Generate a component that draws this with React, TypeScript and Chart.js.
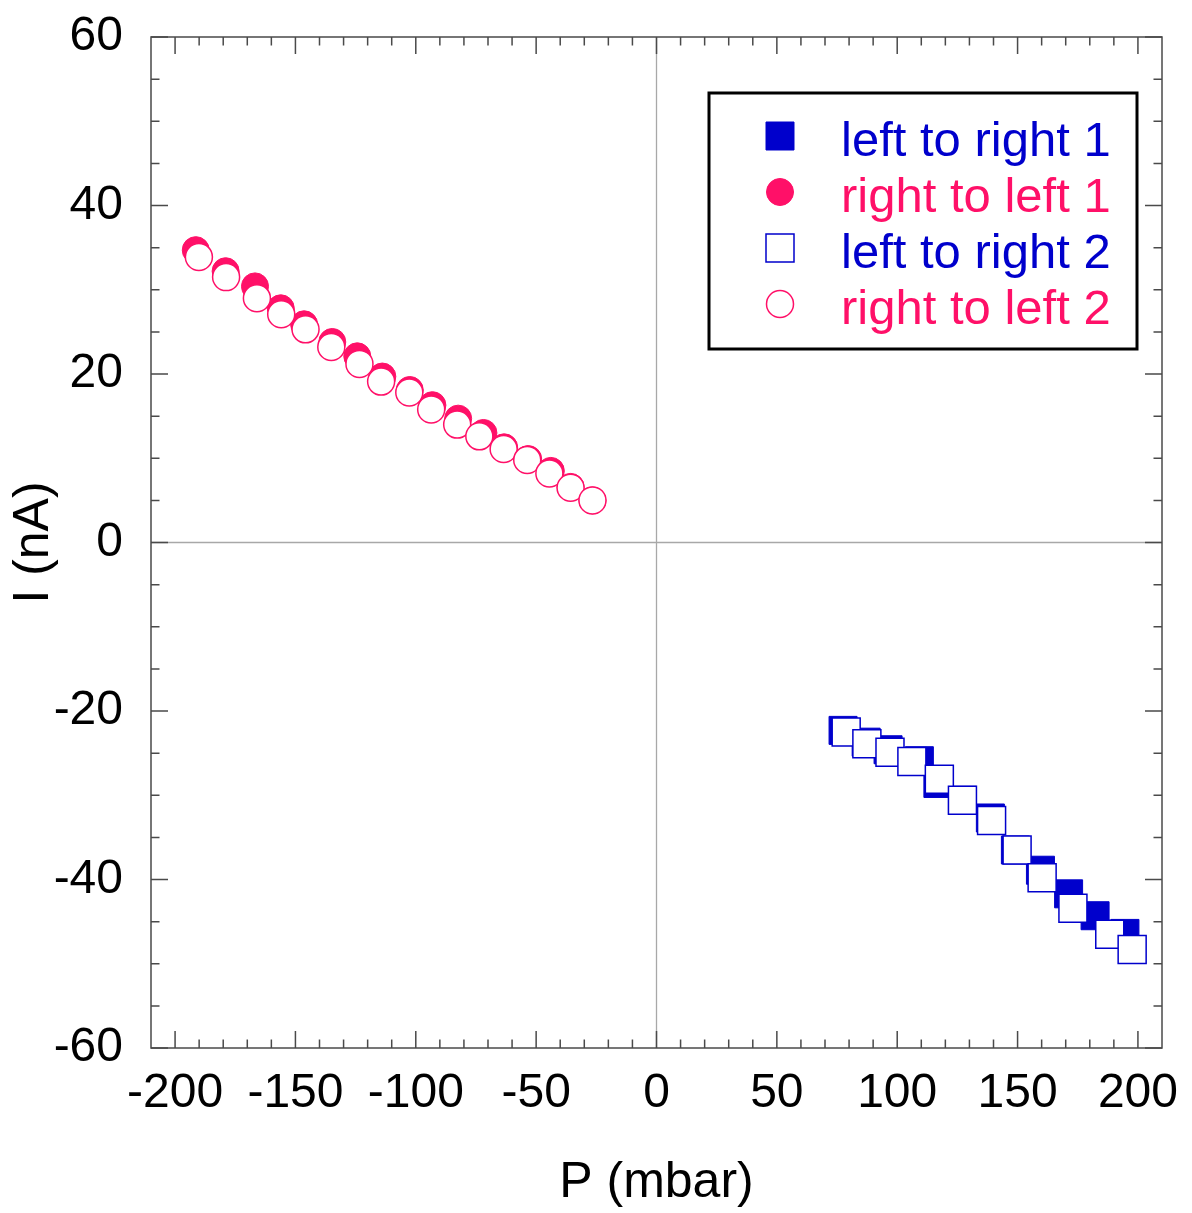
import React, { useEffect, useRef } from 'react';
import { Chart, registerables } from 'chart.js';

Chart.register(...registerables);

// ---- data ----
const ltr1X = [77.5, 87.1, 96.2, 109.2, 116.9, 127.1, 138.7, 149.1, 159.5, 171.2, 182.2, 194.6];
const ltr1Y = [-22.3, -23.7, -24.6, -25.9, -28.6, -30.6, -32.7, -36.5, -38.9, -41.7, -44.3, -46.4];

const rtl1X = [-191.4, -179.0, -166.8, -156.1, -146.4, -134.7, -124.3, -113.9, -102.5, -93.1, -82.4, -71.9, -63.3, -53.3, -43.9, -35.7, -26.6];
const rtl1Y = [34.7, 32.2, 30.4, 27.8, 25.9, 23.8, 22.1, 19.7, 18.1, 16.3, 14.7, 13.0, 11.3, 9.9, 8.5, 6.6, 5.0];

const ltr2X = [78.8, 87.4, 97.0, 106.1, 117.5, 127.1, 139.2, 149.8, 160.2, 173.0, 188.3, 197.6];
const ltr2Y = [-22.5, -23.9, -24.9, -26.0, -28.1, -30.6, -33.0, -36.5, -39.8, -43.4, -46.5, -48.3];

const rtl2X = [-190.1, -178.8, -166.0, -155.9, -145.8, -135.1, -123.4, -114.4, -102.7, -93.6, -82.8, -73.6, -63.5, -53.7, -44.5, -35.7, -26.6];
const rtl2Y = [33.9, 31.5, 29.0, 27.1, 25.3, 23.2, 21.2, 19.1, 17.8, 15.8, 14.0, 12.6, 11.1, 9.8, 8.2, 6.5, 5.0];

const seriesNames = ['left to right 1', 'right to left 1', 'left to right 2', 'right to left 2'];

const xTicks = [-200, -150, -100, -50, 0, 50, 100, 150, 200];
const yTicks = [-60, -40, -20, 0, 20, 40, 60];
const xMinorStep = 10;
const yMinorStep = 5;
const xRange = [-210, 210];
const yRange = [-60, 60];

const xTitle = 'P (mbar)';
const yTitle = 'I (nA)';

// ---- styles ----
const BLUE = '#0000CC';
const PINK = '#FF1068';
const FONT = "'Liberation Sans', Arial, Helvetica, sans-serif";
const FRAME = '#4a4a4a';

const toPts = (xs: number[], ys: number[]) => xs.map((x, i) => ({ x, y: ys[i] }));

const framePlugin = {
  id: 'frameTicks',
  beforeDatasetsDraw(chart: any) {
    const { ctx, chartArea, scales } = chart;
    const { left, right, top, bottom } = chartArea;
    const xs = scales.x;
    const ys = scales.y;
    ctx.save();
    ctx.strokeStyle = '#a8a8a8';
    ctx.lineWidth = 1.3;
    const x0 = xs.getPixelForValue(0);
    const y0 = ys.getPixelForValue(0);
    ctx.beginPath();
    ctx.moveTo(x0, top);
    ctx.lineTo(x0, bottom);
    ctx.moveTo(left, y0);
    ctx.lineTo(right, y0);
    ctx.stroke();
    ctx.restore();
  },
  afterDatasetsDraw(chart: any) {
    const { ctx, chartArea, scales } = chart;
    const { left, right, top, bottom } = chartArea;
    const xs = scales.x;
    const ys = scales.y;
    ctx.save();
    ctx.strokeStyle = FRAME;
    ctx.lineWidth = 1.5;
    ctx.strokeRect(left, top, right - left, bottom - top);
    const major = 17;
    const minor = 8.5;
    ctx.beginPath();
    for (let v = xTicks[0]; v <= xTicks[xTicks.length - 1] + 1e-9; v += xMinorStep) {
      const isMajor = xTicks.some((t) => Math.abs(t - v) < 1e-6);
      const len = isMajor ? major : minor;
      const px = xs.getPixelForValue(v);
      ctx.moveTo(px, bottom);
      ctx.lineTo(px, bottom - len);
      ctx.moveTo(px, top);
      ctx.lineTo(px, top + len);
    }
    for (let v = yTicks[0]; v <= yTicks[yTicks.length - 1] + 1e-9; v += yMinorStep) {
      const isMajor = yTicks.some((t) => Math.abs(t - v) < 1e-6);
      const len = isMajor ? major : minor;
      const py = ys.getPixelForValue(v);
      ctx.moveTo(left, py);
      ctx.lineTo(left + len, py);
      ctx.moveTo(right, py);
      ctx.lineTo(right - len, py);
    }
    ctx.stroke();
    ctx.restore();

    // legend box
    const boxW = 428;
    const boxH = 256;
    const boxLeft = right - 25 - boxW;
    const boxTop = top + 56;
    ctx.save();
    ctx.fillStyle = '#ffffff';
    ctx.fillRect(boxLeft, boxTop, boxW, boxH);
    ctx.strokeStyle = '#000000';
    ctx.lineWidth = 3;
    ctx.strokeRect(boxLeft, boxTop, boxW, boxH);
    const ds = chart.data.datasets;
    [0, 1, 2, 3].forEach((di, row) => {
      const d = ds[di];
      const mx = boxLeft + 71;
      const my = boxTop + 43 + row * 56;
      ctx.beginPath();
      if (d.pointStyle === 'rect') {
        ctx.rect(mx - 14, my - 14, 28, 28);
      } else {
        ctx.arc(mx, my, 13.5, 0, Math.PI * 2);
      }
      ctx.fillStyle = d.backgroundColor;
      ctx.fill();
      ctx.lineWidth = d.borderWidth;
      ctx.strokeStyle = d.borderColor;
      ctx.stroke();
      ctx.fillStyle = d.borderColor;
      ctx.font = `49px ${FONT}`;
      ctx.textBaseline = 'alphabetic';
      ctx.textAlign = 'left';
      ctx.fillText(d.label, boxLeft + 132, my + 20);
    });
    ctx.restore();
  },
};

export default function App() {
  const canvasRef = useRef<HTMLCanvasElement | null>(null);

  useEffect(() => {
    document.body.style.margin = '0';
    const canvas = canvasRef.current;
    if (!canvas) return;
    const chart = new Chart(canvas, {
      type: 'scatter',
      data: {
        datasets: [
          {
            label: seriesNames[0],
            data: toPts(ltr1X, ltr1Y),
            pointStyle: 'rect',
            pointRadius: 19.8,
            backgroundColor: BLUE,
            borderColor: BLUE,
            borderWidth: 1,
            order: 2,
          },
          {
            label: seriesNames[1],
            data: toPts(rtl1X, rtl1Y),
            pointStyle: 'circle',
            pointRadius: 13.5,
            backgroundColor: PINK,
            borderColor: PINK,
            borderWidth: 1,
            order: 2,
          },
          {
            label: seriesNames[2],
            data: toPts(ltr2X, ltr2Y),
            pointStyle: 'rect',
            pointRadius: 19.8,
            backgroundColor: '#ffffff',
            borderColor: BLUE,
            borderWidth: 1.5,
            order: 1,
          },
          {
            label: seriesNames[3],
            data: toPts(rtl2X, rtl2Y),
            pointStyle: 'circle',
            pointRadius: 13.5,
            backgroundColor: '#ffffff',
            borderColor: PINK,
            borderWidth: 1.5,
            order: 1,
          },
        ],
      },
      options: {
        animation: false,
        responsive: false,
        devicePixelRatio: 1,
        layout: { padding: { top: 37, right: 30, left: 0, bottom: 0 } },
        plugins: {
          legend: { display: false },
          tooltip: { enabled: false },
        },
        scales: {
          x: {
            type: 'linear',
            min: xRange[0],
            max: xRange[1],
            grid: { display: false, drawTicks: false },
            border: { display: false },
            afterBuildTicks: (s: any) => {
              s.ticks = xTicks.map((v) => ({ value: v }));
            },
            afterFit: (s: any) => {
              s.height = 165;
              s.paddingLeft = 0;
              s.paddingRight = 0;
            },
            ticks: {
              color: '#000',
              font: { family: FONT, size: 48 },
              padding: 17,
              maxRotation: 0,
              autoSkip: false,
            },
            title: {
              display: true,
              text: xTitle,
              color: '#000',
              font: { family: FONT, size: 50 },
              padding: { top: 0, bottom: 0 },
            },
          },
          y: {
            type: 'linear',
            min: yRange[0],
            max: yRange[1],
            grid: { display: false, drawTicks: false },
            border: { display: false },
            afterBuildTicks: (s: any) => {
              s.ticks = yTicks.map((v) => ({ value: v }));
            },
            afterFit: (s: any) => {
              s.width = 151;
              s.paddingTop = 0;
              s.paddingBottom = 0;
            },
            ticks: {
              color: '#000',
              font: { family: FONT, size: 48 },
              padding: 28,
              autoSkip: false,
            },
            title: {
              display: true,
              text: yTitle,
              color: '#000',
              font: { family: FONT, size: 50 },
              padding: { top: 4, bottom: 0 },
            },
          },
        },
      },
      plugins: [framePlugin],
    } as any);
    return () => chart.destroy();
  }, []);

  return (
    <div style={{ width: 1192, height: 1213 }}>
      <canvas ref={canvasRef} width={1192} height={1213} style={{ display: 'block' }} />
    </div>
  );
}
